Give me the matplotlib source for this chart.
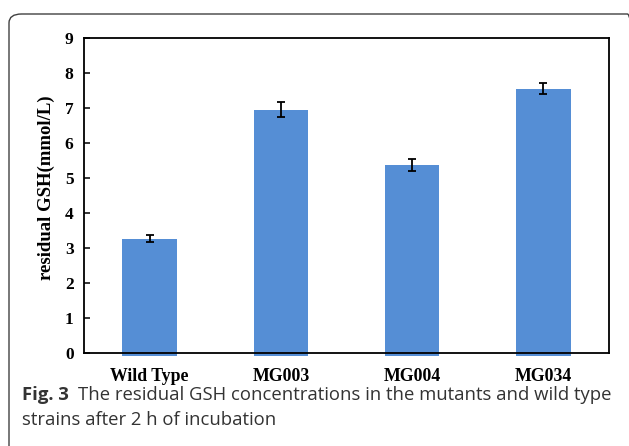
import matplotlib
matplotlib.use("Agg")
import matplotlib.pyplot as plt
import numpy as np
from matplotlib.patches import FancyBboxPatch

# Residual GSH after 2 h incubation
strains = ["Wild Type", "MG003", "MG004", "MG034"]
gsh = [3.27, 6.95, 5.37, 7.55]
gsh_err = [0.09, 0.21, 0.16, 0.16]
y_ticks = [0, 1, 2, 3, 4, 5, 6, 7, 8, 9]

W, H = 629, 446
fig = plt.figure(figsize=(W / 100, H / 100), dpi=100)

def px(x0, y0, x1, y1):
    return [x0 / W, 1 - y1 / H, (x1 - x0) / W, (y1 - y0) / H]

ax = fig.add_axes(px(84, 38, 609, 353))

serif = ["Liberation Serif", "DejaVu Serif"]
bar_color = "#558ED5"
pad = 0.09
x = np.arange(len(strains))
ax.bar(x, np.array(gsh) + pad, bottom=-pad, width=0.415, color=bar_color,
       clip_on=False, zorder=2)
ax.errorbar(x, gsh, yerr=gsh_err, fmt="none", ecolor="black",
            elinewidth=1.3, capsize=3.2, capthick=1.3, zorder=3)

ax.set_xlim(-0.5, len(strains) - 0.5)
ax.set_ylim(0, 9)
ax.set_yticks(y_ticks)
ax.set_yticklabels([str(t) for t in y_ticks], fontfamily=serif,
                   fontweight="bold", fontsize=12.5)
ax.tick_params(axis="y", direction="in", length=4, width=1.1, pad=7.5)
ax.set_xticks(x)
ax.set_xticklabels(strains, fontfamily=serif, fontweight="bold", fontsize=12.8)
ax.tick_params(axis="x", length=0, pad=11)
for s in ax.spines.values():
    s.set_linewidth(1.3)
    s.set_color("black")

fig.text(46 / W, 1 - 188 / H, "residual GSH(mmol/L)", rotation=90,
         ha="center", va="center", fontfamily=serif, fontweight="bold",
         fontsize=13.5)

# Caption
cap_color = "#333333"
cap_size = 13.3
fig_lbl = fig.text(22 / W, 1 - 400 / H, "Fig. 3", fontfamily="Open Sans",
                   fontweight="bold", fontsize=cap_size, color=cap_color,
                   va="baseline")
fig.canvas.draw()
lbl_right = fig_lbl.get_window_extent().x1
fig.text((lbl_right + 9) / W, 1 - 400 / H,
         "The residual GSH concentrations in the mutants and wild type",
         fontfamily="Open Sans", fontsize=cap_size, color=cap_color,
         va="baseline")
fig.text(22 / W, 1 - 425 / H, "strains after 2 h of incubation",
         fontfamily="Open Sans", fontsize=cap_size, color=cap_color,
         va="baseline")

# Rounded frame around the figure panel
frame = FancyBboxPatch((9 / W, -0.1), (640 - 9) / W, 1 - 14 / H + 0.1,
                       boxstyle="round,pad=0,rounding_size=0.02",
                       transform=fig.transFigure, fill=False,
                       edgecolor="#404040", linewidth=1.0, clip_on=False)
fig.patches.append(frame)

fig.savefig("out.png", dpi=100)
